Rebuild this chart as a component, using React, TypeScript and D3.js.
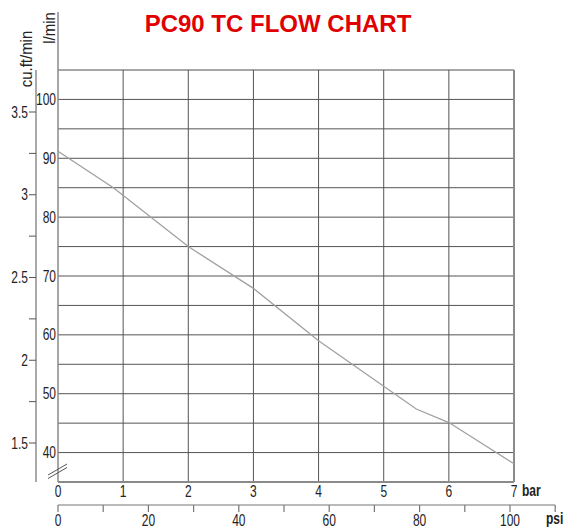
import React from "react";
import * as d3 from "d3";

const barPressure = [0, 0.85, 2, 3, 4, 5.5, 6, 7];
const flowLpm = [91.2, 85, 75, 67.9, 59, 47.4, 45.1, 38.1];
const barTicks = [0, 1, 2, 3, 4, 5, 6, 7];
const lpmTicks = [40, 50, 60, 70, 80, 90, 100];
const lpmGrid = [40, 45, 50, 55, 60, 65, 70, 75, 80, 85, 90, 95, 100, 105];
const cfmTicks = [1.5, 2, 2.5, 3, 3.5];
const cfmMinor = [1.75, 2.25, 2.75, 3.25];
const psiTicks = [0, 10, 20, 30, 40, 50, 60, 70, 80, 90, 100, 110];
const psiLabels = [0, 20, 40, 60, 80, 100];

const sans = "'Liberation Sans', Arial, sans-serif";

function NText(props: {
  x: number;
  y: number;
  anchor?: "start" | "middle" | "end";
  rotate?: number;
  size?: number;
  sx?: number;
  bold?: boolean;
  children: React.ReactNode;
}) {
  const { x, y, anchor = "middle", rotate = 0, size = 16, sx = 0.75, bold = false, children } = props;
  return (
    <text
      transform={`translate(${x},${y}) rotate(${rotate}) scale(${sx},1)`}
      dy="0.35em"
      textAnchor={anchor}
      fontFamily={sans}
      fontSize={size}
      fontWeight={bold ? "bold" : "normal"}
      fill="#222"
    >
      {children}
    </text>
  );
}

export default function App() {
  const x = d3.scaleLinear().domain([0, 7]).range([58, 514]);
  const y = d3.scaleLinear().domain([35, 105]).range([482, 70]);
  const yc = d3.scaleLinear().domain([1.5, 3.5]).range([443, 112]);
  const xp = d3.scaleLinear().domain([0, 100]).range([58, 510]);
  const pts = barPressure.map((b, i) => [b, flowLpm[i]] as [number, number]);
  const line = d3.line<[number, number]>().x((d) => x(d[0])).y((d) => y(d[1]));
  const gridColor = "#555";
  const frameColor = "#8a8a8a";

  return (
    <svg width={569} height={529} style={{ position: "absolute", left: 0, top: 0, background: "#fff" }}>
      <text x={278} y={32} textAnchor="middle" fill="#e00000" fontFamily={sans} fontWeight="bold" fontSize={24}>
        PC90 TC FLOW CHART
      </text>
      {lpmGrid.map((v) => (
        <line key={"h" + v} x1={x(0)} x2={x(7)} y1={y(v)} y2={y(v)} stroke={v === 105 ? frameColor : gridColor} strokeWidth={v === 105 ? 1.5 : 1} />
      ))}
      {barTicks.slice(1, 7).map((b) => (
        <line key={"v" + b} x1={x(b)} x2={x(b)} y1={y(105)} y2={y(35)} stroke={gridColor} strokeWidth={1} />
      ))}
      <line x1={x(7)} x2={x(7)} y1={y(105)} y2={y(35)} stroke={frameColor} strokeWidth={2} />
      <line x1={x(0)} x2={x(7)} y1={y(35)} y2={y(35)} stroke={frameColor} strokeWidth={2} />
      <line x1={x(0)} x2={x(0)} y1={12} y2={y(35)} stroke={frameColor} strokeWidth={1.5} />
      <path d={line(pts) || ""} fill="none" stroke="#a0a0a0" strokeWidth={1.3} />
      {lpmTicks.map((v) => (
        <NText key={"l" + v} x={56} y={y(v)} anchor="end">
          {v}
        </NText>
      ))}
      <line x1={36} x2={36} y1={70} y2={482} stroke="#555" strokeWidth={1} />
      {cfmTicks.map((v) => (
        <g key={"c" + v}>
          <line x1={29} x2={36} y1={yc(v)} y2={yc(v)} stroke="#555" strokeWidth={1} />
          <NText x={28} y={yc(v)} anchor="end">
            {v}
          </NText>
        </g>
      ))}
      {cfmMinor.map((v) => (
        <line key={"cm" + v} x1={29} x2={36} y1={yc(v)} y2={yc(v)} stroke="#555" strokeWidth={1} />
      ))}
      <NText x={26} y={59} rotate={-90} size={17} sx={0.88}>
        cu.ft/min
      </NText>
      <NText x={49} y={28} rotate={-90} size={17} sx={0.88}>
        l/min
      </NText>
      <line x1={48} y1={475} x2={67} y2={464} stroke="#555" strokeWidth={1} />
      <line x1={48} y1={478.5} x2={67} y2={467.5} stroke="#555" strokeWidth={1} />
      {barTicks.map((b) => (
        <NText key={"b" + b} x={x(b)} y={491}>
          {b}
        </NText>
      ))}
      <NText x={522} y={490} anchor="start" bold>
        bar
      </NText>
      <line x1={xp(0)} x2={xp(110)} y1={505} y2={505} stroke="#777" strokeWidth={1.2} />
      {psiTicks.map((p) => (
        <line key={"p" + p} x1={xp(p)} x2={xp(p)} y1={505} y2={512} stroke="#777" strokeWidth={1.2} />
      ))}
      {psiLabels.map((p) => (
        <NText key={"pl" + p} x={xp(p)} y={520}>
          {p}
        </NText>
      ))}
      <NText x={546} y={518} anchor="start" bold>
        psi
      </NText>
    </svg>
  );
}
